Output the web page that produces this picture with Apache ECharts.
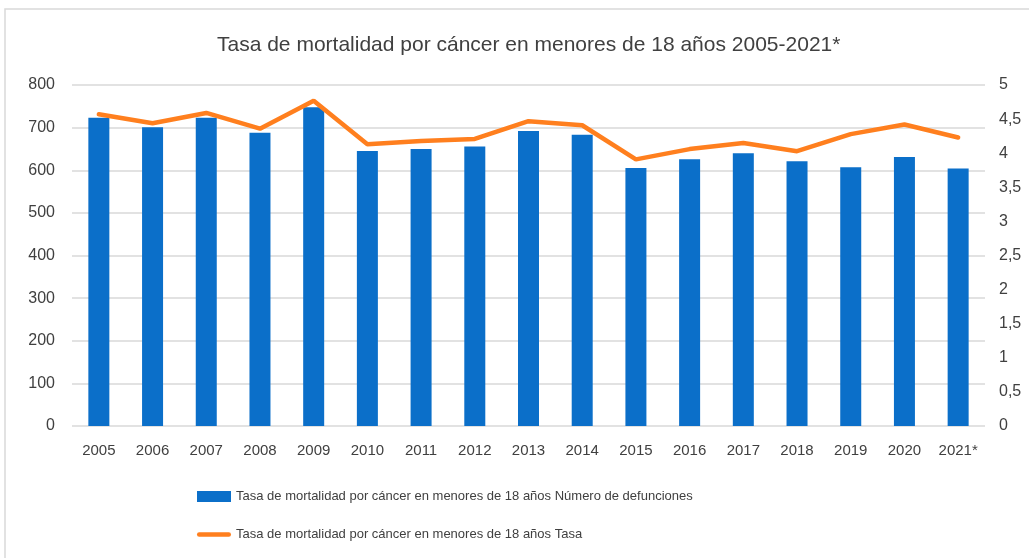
<!DOCTYPE html>
<html><head><meta charset="utf-8">
<script src="https://cdn.jsdelivr.net/npm/echarts@6/dist/echarts.min.js"></script>
<style>html,body{margin:0;padding:0;background:#fff}#c{width:1029px;height:558px}</style>
</head><body><div id="c"></div>
<script>
const years = ['2005','2006','2007','2008','2009','2010','2011','2012','2013','2014','2015','2016','2017','2018','2019','2020','2021*'];
const deaths = [723,701,723,688,748,645,650,656,692,683,605,626,640,621,607,631,604];
const rate = [4.57,4.44,4.59,4.36,4.77,4.13,4.18,4.21,4.47,4.41,3.91,4.06,4.15,4.03,4.28,4.42,4.23];
const barName = 'Tasa de mortalidad por cáncer en menores de 18 años Número de defunciones';
const lineName = 'Tasa de mortalidad por cáncer en menores de 18 años Tasa';
const titleText = 'Tasa de mortalidad por cáncer en menores de 18 años 2005-2021*';
const FONT = '"Liberation Sans", Arial, sans-serif';
const chart = echarts.init(document.getElementById('c'));
chart.setOption({
  animation: false,
  textStyle: {fontFamily: FONT},
  graphic: [{type:'rect', shape:{x:5, y:9, width:1030, height:560}, style:{fill:'none', stroke:'#d9d9d9', lineWidth:1.5}, silent:true}],
  title: {text: titleText, left: 212, top: 30, textStyle: {fontFamily: FONT, fontSize: 21, fontWeight: 'normal', color: '#404040'}},
  legend: {
    orient: 'vertical', left: 192, top: 485, itemGap: 25, itemWidth: 34, itemHeight: 11,
    textStyle: {fontFamily: FONT, fontSize: 13, color: '#404040'},
    data: [
      {name: barName, icon: 'rect'},
      {name: lineName, icon: 'path://M2,0 L36,0 A2.5,2.5 0 0 1 36,5 L2,5 A2.5,2.5 0 0 1 2,0 Z'}
    ]
  },
  grid: {left: 72, right: 44, top: 85, bottom: 132},
  xAxis: {
    type: 'category', data: years,
    axisLine: {show: false}, axisTick: {show: false},
    axisLabel: {interval: 0, fontFamily: FONT, fontSize: 15, color: '#404040', margin: 17}
  },
  yAxis: [
    {type: 'value', min: 0, max: 800, interval: 100,
     axisLabel: {fontFamily: FONT, fontSize: 16, color: '#404040', margin: 17},
     splitLine: {lineStyle: {color: '#d9d9d9', width: 1.5}}},
    {type: 'value', min: 0, max: 5, interval: 0.5,
     axisLabel: {fontFamily: FONT, fontSize: 16, color: '#404040', margin: 14,
       formatter: v => String(v).replace('.', ',')},
     splitLine: {show: false}}
  ],
  series: [
    {name: barName, type: 'bar', data: deaths, barWidth: 21, itemStyle: {color: '#0B6FC9'}},
    {name: lineName, type: 'line', yAxisIndex: 1, data: rate, symbol: 'none',
     lineStyle: {color: '#FF7F1E', width: 4.5, cap: 'round'}, itemStyle: {color: '#FF7F1E'}}
  ]
});
</script></body></html>
